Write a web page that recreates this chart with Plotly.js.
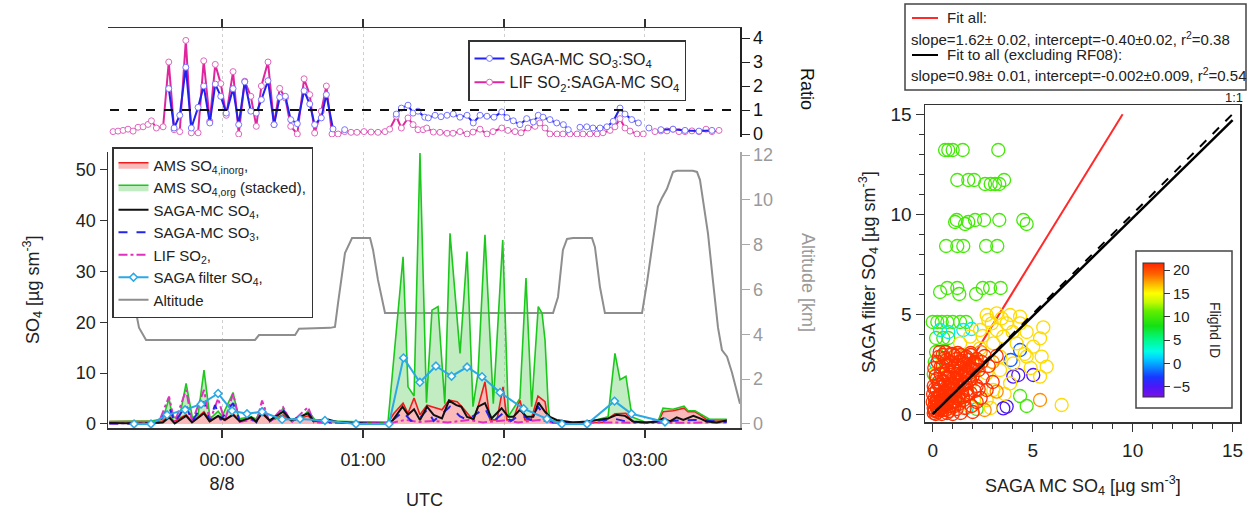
<!DOCTYPE html>
<html><head><meta charset="utf-8">
<script src="https://cdn.plot.ly/plotly-3.0.1.min.js"></script>
<style>html,body{margin:0;padding:0;background:#fff}#chart{width:1250px;height:516px}</style>
</head><body><div id="chart"></div>
<script>
// ---------- DATA (time in decimal hours relative to 00:00 UTC 8/8) ----------
const timeTickVals = [0, 1, 2, 3];
const timeTickText = ['00:00<br>8/8', '01:00', '02:00', '03:00'];

// Top panel ratios [t, ratio]
const ratioSO3toSO4 = [[-0.378,1.89],[-0.340,0.25],[-0.300,0.78],[-0.257,2.78],[-0.218,0.25],[-0.170,1.11],[-0.130,2.0],[-0.087,0.46],[-0.048,2.08],[-0.009,1.57],[0.030,0.87],[0.078,1.89],[0.118,0.39],[0.161,2.17],[0.204,0.95],[0.243,0.87],[0.279,1.43],[0.326,2.22],[0.369,0.39],[0.409,1.53],[0.449,1.57],[0.487,0.6],[0.534,0.43],[0.582,1.8],[0.622,1.25],[0.657,0.39],[0.704,0.67],[0.740,1.64],[0.787,0.21],[0.83,null],[0.870,0.18],[0.95,null],[1.236,0.83],[1.272,1.08],[1.319,1.2],[1.355,0.87],[1.390,0.95],[1.438,0.7],[1.463,0.67],[1.511,0.78],[1.553,0.72],[1.596,0.78],[1.640,0.83],[1.688,0.7],[1.738,0.78],[1.782,0.46],[1.830,0.78],[1.879,0.74],[1.929,0.7],[1.984,0.92],[2.021,0.68],[2.066,0.55],[2.113,0.39],[2.161,0.64],[2.208,0.5],[2.243,0.78],[2.277,0.7],[2.326,0.6],[2.374,0.46],[2.421,0.39],[2.456,0.18],[2.50,null],[2.539,0.28],[2.587,0.3],[2.631,0.25],[2.681,0.25],[2.730,0.3],[2.775,0.53],[2.823,1.08],[2.858,0.83],[2.906,0.6],[2.953,0.46],[2.99,null],[3.028,0.25],[3.07,null],[3.113,0.18],[3.199,0.2],[3.284,0.15],[3.383,0.12],[3.475,0.15]];
const ratioSO2toSO4 = [[-0.773,0.1],[-0.738,0.12],[-0.702,0.15],[-0.667,0.2],[-0.631,0.12],[-0.596,0.28],[-0.560,0.3],[-0.525,0.4],[-0.501,0.55],[-0.466,0.25],[-0.418,0.3],[-0.378,3.0],[-0.340,0.18],[-0.300,0.1],[-0.257,3.9],[-0.218,0.05],[-0.170,0.05],[-0.130,3.05],[-0.087,0.53],[-0.048,2.9],[-0.009,2.1],[0.030,0.78],[0.078,2.6],[0.118,0.0],[0.161,2.2],[0.204,1.57],[0.243,0.32],[0.279,2.0],[0.326,3.0],[0.369,0.39],[0.409,1.9],[0.449,1.5],[0.487,0.32],[0.534,0.0],[0.582,2.3],[0.622,1.64],[0.657,0.04],[0.704,0.95],[0.740,2.0],[0.780,0.0],[0.823,0.0],[0.870,0.1],[0.915,0.07],[0.957,0.07],[1.007,0.1],[1.057,0.08],[1.106,0.07],[1.156,0.1],[1.189,0.2],[1.236,0.74],[1.272,0.25],[1.319,0.67],[1.355,0.39],[1.390,0.18],[1.426,0.18],[1.452,0.25],[1.499,0.08],[1.546,0.07],[1.596,0.03],[1.638,0.03],[1.688,0.1],[1.738,0.0],[1.780,0.08],[1.830,0.2],[1.879,0.0],[1.922,0.1],[1.984,0.25],[2.028,0.15],[2.078,0.1],[2.121,0.05],[2.170,0.25],[2.220,0.32],[2.255,0.46],[2.291,0.25],[2.326,0.0],[2.376,0.0],[2.418,0.0],[2.468,0.0],[2.518,0.0],[2.560,0.0],[2.610,0.0],[2.660,0.0],[2.702,0.05],[2.752,0.15],[2.787,0.3],[2.823,0.64],[2.858,0.25],[2.894,0.12],[2.943,0.0],[2.988,0.0],[3.030,null],[3.071,0.1],[3.113,0.13],[3.156,0.13],[3.199,0.2],[3.241,0.1],[3.284,0.1],[3.333,0.13],[3.383,0.1],[3.433,0.2],[3.475,0.1],[3.525,0.15]];

// Main panel [t, value]
const altitudeKm = [[-0.759,6.0],[-0.617,5.2],[-0.589,4.3],[-0.539,3.75],[0.234,3.75],[0.262,3.97],[0.518,3.97],[0.546,4.25],[0.766,4.29],[0.801,4.33],[0.823,5.4],[0.851,6.74],[0.872,7.63],[0.922,8.3],[1.050,8.3],[1.071,7.77],[1.106,6.43],[1.156,4.95],[2.348,4.95],[2.383,5.67],[2.418,7.77],[2.447,8.26],[2.489,8.3],[2.624,8.3],[2.645,7.9],[2.681,6.1],[2.716,4.95],[2.979,4.95],[3.014,6.3],[3.057,8.2],[3.092,9.7],[3.121,10.1],[3.156,10.5],[3.199,11.25],[3.227,11.3],[3.340,11.3],[3.369,11.25],[3.390,10.9],[3.411,10.0],[3.447,8.5],[3.482,6.4],[3.518,4.3],[3.546,3.3],[3.582,3.0],[3.617,2.3],[3.652,1.4],[3.674,0.9]];
const amsSO4inorg = [[-0.80,0.5],[-0.50,0.5],[-0.42,0.6],[-0.376,1.6],[-0.34,0.5],[-0.255,1.8],[-0.21,0.4],[-0.128,2.4],[-0.085,0.5],[-0.028,1.5],[0.021,0.7],[0.078,2.0],[0.13,0.5],[0.206,1.2],[0.241,0.5],[0.284,2.0],[0.34,0.6],[0.433,1.8],[0.489,0.6],[0.61,1.6],[0.652,0.5],[0.75,0.5],[0.90,0.4],[1.177,0.3],[1.220,2.1],[1.284,4.1],[1.319,2.1],[1.362,5.1],[1.404,1.8],[1.454,3.7],[1.489,3.4],[1.560,2.8],[1.610,4.7],[1.667,4.4],[1.702,3.4],[1.738,2.1],[1.780,0.8],[1.816,3.4],[1.865,8.3],[1.901,0.8],[1.950,0.8],[1.993,7.3],[2.021,0.8],[2.064,0.8],[2.113,4.7],[2.149,0.8],[2.191,0.8],[2.241,5.5],[2.291,4.4],[2.310,1.0],[2.34,0.4],[2.40,0.3],[2.70,0.3],[2.787,2.0],[2.865,2.1],[2.908,0.5],[3.00,0.3],[3.092,0.4],[3.128,2.4],[3.199,2.6],[3.277,3.1],[3.305,2.4],[3.355,2.4],[3.390,1.8],[3.440,0.8],[3.58,0.8]];
// top of the stack: AMS SO4,inorg + AMS SO4,org
const amsSO4orgStacked = [[-0.80,0.5],[-0.50,0.6],[-0.42,1.0],[-0.376,5.0],[-0.35,1.2],[-0.30,1.5],[-0.255,8.0],[-0.21,1.2],[-0.17,1.8],[-0.128,10.6],[-0.085,1.0],[-0.028,2.5],[0.00,1.5],[0.078,6.2],[0.12,1.0],[0.18,1.2],[0.206,1.4],[0.241,1.0],[0.284,3.1],[0.33,0.8],[0.38,1.0],[0.433,3.1],[0.48,0.8],[0.56,1.0],[0.61,2.6],[0.66,0.8],[0.75,0.6],[0.90,0.5],[1.10,0.35],[1.177,0.35],[1.284,32.9],[1.319,7.3],[1.362,5.5],[1.404,53.3],[1.450,4.2],[1.489,22.4],[1.532,23.1],[1.580,4.0],[1.617,37.5],[1.688,13.9],[1.738,33.9],[1.780,3.4],[1.816,10.0],[1.865,37.2],[1.924,4.0],[1.991,36.2],[2.031,1.5],[2.113,5.0],[2.156,28.7],[2.196,3.4],[2.243,23.1],[2.270,21.8],[2.291,16.5],[2.314,3.4],[2.326,0.8],[2.40,0.4],[2.60,0.4],[2.738,1.4],[2.787,13.9],[2.823,8.7],[2.865,9.4],[2.908,1.4],[3.00,0.4],[3.092,0.5],[3.128,3.1],[3.199,2.9],[3.277,3.5],[3.305,2.6],[3.355,2.6],[3.390,2.0],[3.46,0.9],[3.58,0.9]];
const sagaMcSO4 = [[-0.80,0.2],[-0.55,0.1],[-0.42,0.3],[-0.376,1.3],[-0.336,0.1],[-0.255,1.6],[-0.213,0.3],[-0.128,2.1],[-0.088,0.5],[-0.028,1.6],[0.019,0.8],[0.078,1.8],[0.126,0.5],[0.208,1.3],[0.243,0.5],[0.284,2.2],[0.338,0.7],[0.433,2.4],[0.492,0.7],[0.610,2.1],[0.645,0.7],[0.704,0.8],[0.752,0.9],[0.816,0.4],[1.00,0.1],[1.177,0.0],[1.213,0.8],[1.280,3.4],[1.319,1.8],[1.362,2.9],[1.404,0.8],[1.454,3.4],[1.501,1.8],[1.560,1.1],[1.610,4.6],[1.662,3.7],[1.697,3.4],[1.738,1.4],[1.785,1.0],[1.816,3.4],[1.865,4.1],[1.912,1.1],[1.983,3.1],[2.031,1.4],[2.066,1.4],[2.113,2.8],[2.161,1.4],[2.208,1.4],[2.244,4.2],[2.291,2.4],[2.326,1.4],[2.373,0.8],[2.489,0.3],[2.584,0.5],[2.681,0.8],[2.740,1.1],[2.799,1.8],[2.858,1.6],[2.917,0.5],[3.012,0.3],[3.083,0.5],[3.130,1.1],[3.177,0.5],[3.225,1.3],[3.272,0.8],[3.343,1.6],[3.390,1.1],[3.437,0.5],[3.508,0.3],[3.580,0.7]];
const sagaMcSO3 = [[-0.80,0.1],[-0.45,0.1],[-0.376,3.4],[-0.336,0.3],[-0.255,3.7],[-0.213,0.4],[-0.128,4.4],[-0.088,0.6],[-0.05,3.7],[-0.01,0.8],[0.078,4.1],[0.126,0.6],[0.208,1.0],[0.243,0.4],[0.284,3.1],[0.338,0.5],[0.433,2.8],[0.492,0.4],[0.610,2.4],[0.652,0.4],[0.75,0.5],[0.90,0.2],[1.177,0.0],[1.284,2.4],[1.340,0.6],[1.404,1.2],[1.454,2.8],[1.501,0.6],[1.617,3.4],[1.688,1.5],[1.738,0.8],[1.865,3.1],[1.915,0.3],[1.993,2.1],[2.050,0.6],[2.113,1.8],[2.191,0.8],[2.241,3.4],[2.291,1.5],[2.35,0.3],[2.5,0.2],[2.787,1.0],[2.9,0.3],[3.2,0.6],[3.35,0.8],[3.58,0.4]];
const lifSO2 = [[-0.80,0.1],[-0.45,0.2],[-0.376,5.4],[-0.336,0.3],[-0.255,6.7],[-0.213,0.4],[-0.128,6.7],[-0.088,0.5],[-0.028,5.0],[0.019,0.6],[0.078,6.0],[0.126,0.4],[0.208,0.8],[0.243,0.3],[0.284,4.6],[0.338,0.3],[0.433,3.3],[0.492,0.3],[0.610,3.3],[0.652,0.3],[0.75,0.2],[1.2,0.2],[1.3,0.8],[1.4,0.4],[1.5,0.6],[1.6,0.3],[1.75,0.8],[1.85,0.3],[2.0,0.7],[2.1,0.3],[2.25,0.8],[2.35,0.2],[2.8,0.3],[3.0,0.2],[3.58,0.3]];
const sagaFilterSO4 = [[-0.624,0],[-0.504,0],[-0.390,1.8],[-0.262,2.8],[-0.149,3.9],[-0.028,6.0],[0.071,2.6],[0.177,2.0],[0.284,2.4],[0.426,0.9],[0.553,1.0],[0.730,0.7],[0.950,0],[1.184,0],[1.287,13.0],[1.403,8.2],[1.517,11.4],[1.628,9.4],[1.738,11.2],[1.844,9.3],[1.972,6.2],[2.139,3.0],[2.305,1.0],[2.411,0],[2.589,0],[2.784,4.5],[2.904,2.0],[3.142,0.4]];

// Scatter: SAGA MC SO4 (x) vs SAGA filter SO4 (y), grouped by flight ID
const flight10X = [0.62,0.78,1.0,1.5,3.28, 1.23,1.78,2.07,2.62,2.9,3.12,3.33,3.57, 1.12,1.2,1.62,1.78,2.12,2.57,3.33,4.53,4.7, 0.67,1.23,1.53,2.67,3.23, 0.37,0.73,1.23,1.33,2.17,2.5,2.87,3.4, 0.0,0.23,0.45,0.73,1.0,1.37,1.67, 0.17,0.53,0.78, 0.17,0.62, 4.37,4.7,2.2,1.1, 0.05,0.1];
const flight10Y = [13.2,13.2,13.2,13.2,13.2, 11.7,11.7,11.7,11.5,11.5,11.5,11.5,11.7, 9.6,9.7,9.5,9.6,9.7,9.7,9.7,9.7,9.5, 8.4,8.4,8.4,8.4,8.4, 6.1,6.3,6.3,6.0,6.0,6.3,6.3,6.3, 4.6,4.6,4.6,4.6,4.6,4.6,4.6, 3.8,3.8,3.8, 3.1,3.1, 0.9,0.4,0.25,0.5, 2.0,2.6];
const flight2X = [0.37,0.78,1.53,1.95,0.17,0.3,1.7];
const flight2Y = [4.2,4.1,4.2,4.25,2.5,1.5,0.3];
const flightM2X = [4.37,3.9];
const flightM2Y = [3.2,2.7];
const flightM5X = [4.03,4.28,3.53,3.7,5.03];
const flightM5Y = [1.87,1.95,0.28,0.37,1.95];
const flight16X = [2.7,3.2,3.87,4.37,2.78,3.7,4.37,5.53,5.37,4.7,5.03,4.2,3.53,3.03,2.37,4.7,5.45,5.37,4.03,3.37,2.7,2.2,1.87,1.37,0.7,0.2,3.87,3.03,2.7,1.87,1.37,6.45,5.7,3.37,2.37,1.87,1.37,2.95,3.45,4.0,4.6,3.2,2.5,1.0,0.5,4.9,3.6,2.9];
const flight16Y = [4.95,5.03,4.95,4.87,4.7,4.53,4.53,4.33,3.78,4.1,3.37,3.53,3.87,3.53,3.28,2.87,2.87,1.87,2.53,2.2,2.03,2.37,1.53,2.03,1.87,2.03,1.53,1.2,0.7,0.37,0.87,0.45,2.37,2.87,4.2,3.87,3.53,4.53,4.78,4.1,3.0,4.2,3.9,2.8,2.6,2.3,1.0,0.3];
const flight18X = [3.2,2.6,5.37,3.0,1.6,2.4,0.9];
const flight18Y = [1.12,0.2,0.7,2.6,2.9,3.1,0.3];
const flight21X = [0.05,0.1,0.15,0.2,0.25,0.3,0.35,0.4,0.45,0.5,0.55,0.6,0.65,0.7,0.75,0.8,0.85,0.9,0.95,1.0,1.05,1.1,1.15,1.2,1.25,1.3,1.35,1.4,1.45,1.5,1.55,1.6,1.65,1.7,1.75,1.8,1.85,1.9,1.95,2.0,2.1,2.2,2.3,2.4,2.5,2.6,0.1,0.2,0.3,0.4,0.5,0.6,0.15,0.25,0.35,0.7,0.8,0.9,1.0,1.1,0.05,0.12,0.22,0.32,0.42,0.52,0.62,0.72,0.82,1.2,1.6,2.2,2.7,3.0,1.25,1.9,0.65,2.8,3.2,0.0,0.02,0.08,0.45,1.0,1.4,2.0,0.3,0.6,0.9,1.2,1.5,1.8,0.5,1.0,1.3,1.7,0.4,0.8,2.0,1.6,1.1,0.2,
  0.1,0.3,0.5,0.7,0.9,1.1,1.3,1.5,1.7,1.9,2.1,2.3,0.2,0.4,0.6,0.8,1.0,1.2,1.4,1.6,1.8,2.0,2.2,0.1,0.3,0.5,0.7,0.9,1.1,1.3,1.5,1.7,1.9,0.2,0.4,0.6,0.8,1.0,1.2,1.4,1.6,0.3,0.5,0.7,0.9,1.1,1.3,0.05,0.25,0.45,0.65,0.85,1.05,1.25,1.45,1.65,1.85,2.05,2.25,2.45];
const flight21Y = [0.05,0.2,0.0,0.35,0.1,0.5,0.2,0.7,0.3,0.9,0.45,1.1,0.2,0.6,1.3,0.9,0.4,1.5,1.0,0.6,1.8,1.2,0.8,2.0,1.4,0.5,1.7,2.3,1.1,1.9,0.7,2.5,1.5,2.1,1.0,2.7,1.7,2.3,0.4,1.9,2.6,1.4,2.2,0.8,1.8,2.9,0.8,1.2,1.6,2.0,2.4,2.8,1.9,2.6,3.1,2.2,1.8,2.6,3.0,2.4,1.4,0.55,0.75,0.95,1.35,1.65,1.45,0.05,0.15,0.25,0.3,0.6,1.2,1.6,3.05,3.05,3.1,2.4,2.9,0.6,1.0,2.3,0.0,0.0,0.05,0.1,0.3,0.6,0.9,1.2,1.5,1.8,0.2,1.5,0.9,1.2,1.0,1.3,2.2,2.0,0.4,0.6,
  0.15,0.25,0.35,0.45,0.55,0.65,0.75,0.85,0.95,1.05,1.15,1.25,0.75,0.95,1.15,1.35,1.55,1.75,1.95,2.15,2.35,2.55,2.75,1.25,1.45,1.65,1.85,2.05,2.25,2.45,2.65,2.85,2.95,1.75,2.35,2.0,2.45,2.3,2.75,2.95,2.8,2.85,2.95,2.7,3.0,2.9,2.6,0.3,0.55,0.65,0.85,1.05,1.25,1.45,1.65,1.85,2.05,2.25,2.45,2.6];

const fitAllSlope = 1.62, fitAllIntercept = -0.40, fitAllX = [0.25, 9.5];
const fitExclSlope = 0.98, fitExclIntercept = -0.002, fitExclX = [0, 15];
const oneToOneX = [0, 15];
const colorbarTicks = [-5, 0, 5, 10, 15, 20];

// ---------- BUILD ----------
const W = 1250, H = 516;
const px = x => x / W, py = y => (H - y) / H;
const xs = a => a.map(p => p[0]), ys = a => a.map(p => p[1]);
const FONT = 'Liberation Sans, Arial, Helvetica, sans-serif';

const scatGroups = [
  [flight10X, flight10Y, 10], [flight2X, flight2Y, 2], [flightM2X, flightM2Y, -2],
  [flightM5X, flightM5Y, -5], [flight16X, flight16Y, 16], [flight18X, flight18Y, 18],
  [flight21X, flight21Y, 21]
];
const scX = [], scY = [], scC = [];
scatGroups.forEach(g => { g[0].forEach((v, i) => { scX.push(v); scY.push(g[1][i]); scC.push(g[2]); }); });

const rainbow = [
  [0, '#7a10e8'], [0.08, '#4a18f8'], [0.15, '#1838ff'], [0.22, '#0a86ff'],
  [0.29, '#00d2ff'], [0.34, '#00fce8'], [0.43, '#00f888'], [0.53, '#14e014'],
  [0.64, '#60ee00'], [0.71, '#c8fa00'], [0.775, '#ffff00'], [0.845, '#ffb400'],
  [0.915, '#ff6400'], [1, '#ff2400']
];

const traces = [
  {x: xs(altitudeKm), y: ys(altitudeKm), xaxis: 'x', yaxis: 'y', mode: 'lines', name: 'Altitude',
   line: {color: '#8e8e8e', width: 2}, legend: 'legend2', legendrank: 7},
  {x: xs(amsSO4inorg), y: ys(amsSO4inorg), xaxis: 'x', yaxis: 'y3', mode: 'lines', name: 'AMS SO<sub>4,inorg</sub>,',
   fill: 'tozeroy', fillcolor: 'rgba(245,130,130,0.55)', line: {color: '#f01c1c', width: 1.6}, legend: 'legend2', legendrank: 1},
  {x: xs(amsSO4orgStacked), y: ys(amsSO4orgStacked), xaxis: 'x', yaxis: 'y3', mode: 'lines', name: 'AMS SO<sub>4,org</sub> (stacked),',
   fill: 'tonexty', fillcolor: 'rgba(120,215,120,0.45)', line: {color: '#1cc81c', width: 1.6}, legend: 'legend2', legendrank: 2},
  {x: xs(lifSO2), y: ys(lifSO2), xaxis: 'x', yaxis: 'y3', mode: 'lines', name: 'LIF SO<sub>2</sub>,',
   line: {color: '#e030c0', width: 2, dash: 'dashdot'}, legend: 'legend2', legendrank: 5},
  {x: xs(sagaMcSO3), y: ys(sagaMcSO3), xaxis: 'x', yaxis: 'y3', mode: 'lines', name: 'SAGA-MC SO<sub>3</sub>,',
   line: {color: '#2424e8', width: 2, dash: 'dash'}, legend: 'legend2', legendrank: 4},
  {x: xs(sagaMcSO4), y: ys(sagaMcSO4), xaxis: 'x', yaxis: 'y3', mode: 'lines', name: 'SAGA-MC SO<sub>4</sub>,',
   line: {color: '#111', width: 2}, legend: 'legend2', legendrank: 3},
  {x: xs(sagaFilterSO4), y: ys(sagaFilterSO4), xaxis: 'x', yaxis: 'y3', mode: 'lines+markers', name: 'SAGA filter SO<sub>4</sub>,',
   line: {color: '#2aa9e6', width: 2}, marker: {symbol: 'diamond', size: 6, color: '#fff', line: {color: '#2aa9e6', width: 1.5}},
   legend: 'legend2', legendrank: 6},
  {x: xs(ratioSO2toSO4), y: ys(ratioSO2toSO4), xaxis: 'x2', yaxis: 'y2', mode: 'lines+markers', name: 'LIF SO<sub>2</sub>:SAGA-MC SO<sub>4</sub>',
   line: {color: '#e0269e', width: 2}, marker: {symbol: 'circle', size: 6, color: '#fff', line: {color: '#e066bf', width: 1}},
   legend: 'legend', legendrank: 2, connectgaps: false},
  {x: xs(ratioSO3toSO4), y: ys(ratioSO3toSO4), xaxis: 'x2', yaxis: 'y2', mode: 'lines+markers', name: 'SAGA-MC SO<sub>3</sub>:SO<sub>4</sub>',
   line: {color: '#2222ee', width: 2}, marker: {symbol: 'circle', size: 6, color: '#fff', line: {color: '#7676ff', width: 1}},
   legend: 'legend', legendrank: 1, connectgaps: false},
  {x: fitAllX, y: fitAllX.map(v => fitAllSlope * v + fitAllIntercept), xaxis: 'x3', yaxis: 'y4', mode: 'lines',
   line: {color: '#ff2a2a', width: 2}, showlegend: false},
  {x: scX, y: scY, xaxis: 'x3', yaxis: 'y4', mode: 'markers', showlegend: false,
   marker: {symbol: 'circle-open', size: 13, color: scC, cmin: -7.2, cmax: 21.5, colorscale: rainbow, line: {width: 1.3},
     colorbar: {x: px(1142.7), xanchor: 'left', y: py(330), yanchor: 'middle', lenmode: 'pixels', len: 134,
       thickness: 21, xpad: 0, ypad: 0, outlinewidth: 1, outlinecolor: '#333', tickmode: 'array', tickvals: colorbarTicks,
       ticks: 'outside', ticklen: 6, tickcolor: '#333', tickfont: {size: 15, color: '#222', family: FONT}, title: {text: ''}}}},
  {x: fitExclX, y: fitExclX.map(v => fitExclSlope * v + fitExclIntercept), xaxis: 'x3', yaxis: 'y4', mode: 'lines',
   line: {color: '#000', width: 2.5}, showlegend: false},
  {x: oneToOneX, y: oneToOneX, xaxis: 'x3', yaxis: 'y4', mode: 'lines',
   line: {color: '#000', width: 2, dash: 'dash'}, showlegend: false}
];

const tickF = (s, c) => ({size: s, color: c || '#222', family: FONT});
const legendBase = {bgcolor: '#fff', bordercolor: '#333', borderwidth: 1.5, xanchor: 'left', yanchor: 'top', traceorder: 'normal'};
const ann = (text, x, y, o) => Object.assign({text: text, xref: 'paper', yref: 'paper', x: px(x), y: py(y), xanchor: 'center', yanchor: 'middle', showarrow: false}, o);

const layout = {
  width: W, height: H, autosize: false, margin: {l: 0, r: 0, t: 0, b: 0},
  paper_bgcolor: '#fff', plot_bgcolor: '#fff', hovermode: false,
  font: {family: FONT, color: '#222'},
  showlegend: true,
  legend: Object.assign({}, legendBase, {x: px(468), y: py(40), font: {size: 16, color: '#222', family: FONT}}),
  legend2: Object.assign({}, legendBase, {x: px(112), y: py(147), font: {size: 15, color: '#222', family: FONT}}),
  xaxis: {domain: [px(108), px(740)], range: [-0.809, 3.674], anchor: 'y', showline: true, linecolor: '#333', linewidth: 1.5,
    ticks: 'outside', ticklen: 8, tickwidth: 1.5, tickcolor: '#333', tickmode: 'array', tickvals: timeTickVals, ticktext: timeTickText,
    ticklabelstandoff: 7, tickfont: tickF(18), showgrid: true, gridcolor: '#cfcfcf', griddash: 'dot', gridwidth: 1, zeroline: false},
  yaxis: {domain: [py(428), py(152)], range: [-0.18, 12.14], anchor: 'x', side: 'right', showline: true, linecolor: '#a8a8a8', linewidth: 1.5,
    ticks: 'outside', ticklen: 8, tickcolor: '#a8a8a8', tickmode: 'array', tickvals: [0, 2, 4, 6, 8, 10, 12],
    tickfont: tickF(18, '#9a9a9a'), showgrid: false, zeroline: false},
  yaxis3: {overlaying: 'y', side: 'left', anchor: 'x', range: [-0.79, 53.5], showline: true, linecolor: '#333', linewidth: 1.5,
    ticks: 'outside', ticklen: 7, tickcolor: '#333', tickmode: 'array', tickvals: [0, 10, 20, 30, 40, 50],
    tickfont: tickF(18), showgrid: false, zeroline: false},
  xaxis2: {domain: [px(108), px(740)], range: [-0.809, 3.674], anchor: 'y2', side: 'top', showline: true, linecolor: '#333', linewidth: 1.5,
    ticks: 'outside', ticklen: 8, tickwidth: 1.5, tickcolor: '#333', tickmode: 'array', tickvals: timeTickVals, showticklabels: false,
    showgrid: true, gridcolor: '#cfcfcf', griddash: 'dot', zeroline: false},
  yaxis2: {domain: [py(137), py(28)], range: [-0.125, 4.417], anchor: 'x2', side: 'right', showline: true, linecolor: '#222', linewidth: 1.5,
    ticks: 'outside', ticklen: 8, tickcolor: '#222', tickmode: 'array', tickvals: [0, 1, 2, 3, 4],
    tickfont: tickF(18, '#111'), showgrid: false, zeroline: false},
  xaxis3: {domain: [px(925), px(1240)], range: [-0.385, 15.37], anchor: 'y4', showline: true, mirror: true, linecolor: '#333', linewidth: 1.5,
    ticks: 'outside', ticklen: 8, tickcolor: '#333', tickmode: 'linear', tick0: 0, dtick: 5, ticklabelstandoff: 3,
    minor: {tickmode: 'linear', tick0: 0, dtick: 1, ticks: 'outside', ticklen: 5, tickcolor: '#333', showgrid: false},
    tickfont: tickF(19), showgrid: false, zeroline: false},
  yaxis4: {domain: [py(422), py(105)], range: [-0.4, 15.45], anchor: 'x3', showline: true, mirror: true, linecolor: '#333', linewidth: 1.5,
    ticks: 'outside', ticklen: 8, tickcolor: '#333', tickmode: 'linear', tick0: 0, dtick: 5,
    minor: {tickmode: 'linear', tick0: 0, dtick: 1, ticks: 'outside', ticklen: 5, tickcolor: '#333', showgrid: false},
    tickfont: tickF(19), showgrid: false, zeroline: false},
  shapes: [
    {type: 'line', xref: 'paper', yref: 'y2', x0: px(110), x1: px(740), y0: 1, y1: 1, line: {color: '#111', width: 2, dash: 'dash'}},
    {type: 'rect', xref: 'paper', yref: 'paper', x0: px(905), x1: px(1246), y0: py(90), y1: py(4), line: {color: '#444', width: 1.5}},
    {type: 'line', xref: 'paper', yref: 'paper', x0: px(912), x1: px(938), y0: py(18), y1: py(18), line: {color: '#ff2a2a', width: 2}},
    {type: 'line', xref: 'paper', yref: 'paper', x0: px(912), x1: px(938), y0: py(55), y1: py(55), line: {color: '#000', width: 2}},
    {type: 'rect', xref: 'paper', yref: 'paper', x0: px(1136), x1: px(1232), y0: py(408), y1: py(251), line: {color: '#444', width: 1.5}, layer: 'below'}
  ],
  annotations: [
    ann('SO<sub>4</sub> [µg sm<sup>-3</sup>]', 32, 290, {textangle: -90, font: {size: 18, color: '#222'}}),
    ann('UTC', 424, 500, {font: {size: 18, color: '#222'}}),
    ann('Altitude [km]', 808, 282, {textangle: 90, font: {size: 18, color: '#9a9a9a'}}),
    ann('Ratio', 807, 89, {textangle: 90, font: {size: 18, color: '#111'}}),
    ann('SAGA filter SO<sub>4</sub> [µg sm<sup>-3</sup>]', 868, 272, {textangle: -90, font: {size: 18, color: '#222'}}),
    ann('SAGA MC SO<sub>4</sub> [µg sm<sup>-3</sup>]', 1083, 485, {font: {size: 18, color: '#222'}}),
    ann('Flighd ID', 1215, 330, {textangle: 90, font: {size: 14, color: '#222'}}),
    ann('1:1', 1234, 97, {font: {size: 13, color: '#222'}}),
    ann('Fit all:', 945, 18, {xanchor: 'left', font: {size: 15, color: '#222'}}),
    ann('slope=1.62± 0.02, intercept=-0.40±0.02, r<sup>2</sup>=0.38', 909, 38, {xanchor: 'left', font: {size: 15, color: '#222'}}),
    ann('Fit to all (excluding RF08):', 945, 55, {xanchor: 'left', font: {size: 15, color: '#222'}}),
    ann('slope=0.98± 0.01, intercept=-0.002±0.009, r<sup>2</sup>=0.54', 909, 74, {xanchor: 'left', font: {size: 15, color: '#222'}})
  ]
};

Plotly.newPlot('chart', traces, layout, {staticPlot: true, displayModeBar: false});
</script>
</body></html>
